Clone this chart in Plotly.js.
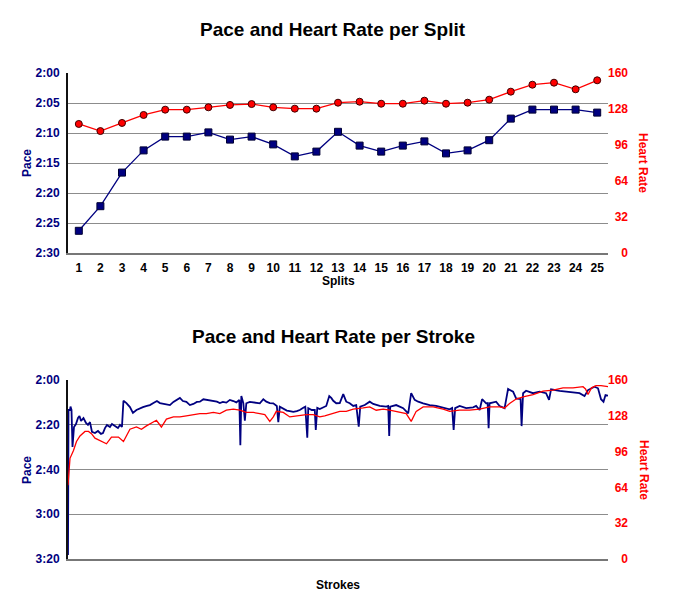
<!DOCTYPE html>
<html>
<head>
<meta charset="utf-8">
<script src="https://cdn.plot.ly/plotly-3.0.1.min.js"></script>
<style>html,body{margin:0;padding:0;background:#fff;}#chart{width:682px;height:603px;}</style>
</head>
<body>
<div id="chart"></div>
<script>
// ---------- Data: per split ----------
var splits = [1,2,3,4,5,6,7,8,9,10,11,12,13,14,15,16,17,18,19,20,21,22,23,24,25];
// pace in seconds per 500m (2:00 = 120 s)
var splitPace = [146.3,142.2,136.6,132.9,130.6,130.6,129.9,131.1,130.6,131.9,133.9,133.1,129.8,132.1,133.1,132.1,131.4,133.4,132.9,131.2,127.6,126.1,126.1,126.1,126.6];
var splitHR = [114.7,108.4,115.6,122.7,127.4,127.4,129.5,131.6,132.4,129.5,128.3,128.3,133.6,134.5,132.7,132.7,135.4,132.7,133.6,136.3,143.4,149.6,151.4,145.5,153.5];

// ---------- Data: per stroke ----------
var paceStrokes = [0,1,4,5,7,9,12,16,20,23,26,31,36,40,44,48,54,60,66,70,74,78,84,88,94,100,104,108,111,117,124,130,137,144,150,158,164,171,178,184,191,198,204,211,218,224,230,237,244,251,258,264,271,278,284,290,298,304,310,317,324,331,337,343,345,347,351,354,357,364,371,378,384,391,397,404,411,418,421,424,431,438,444,451,458,464,471,475,479,481,488,494,496,499,504,511,517,523,527,531,537,544,551,557,564,571,577,582,585,594,604,611,624,637,641,643,645,657,671,681,687,694,701,711,724,737,751,764,769,772,775,784,797,811,817,824,829,837,840,842,844,857,864,874,881,891,897,904,906,908,911,917,931,944,957,963,967,984,997,1011,1024,1034,1041,1054,1061,1067,1072,1076,1081];
var strokePace = [198.2,133.4,133.4,131.9,133.4,149.9,141.0,139.7,137.0,136.1,138.3,137.0,139.2,140.1,138.8,143.2,143.7,142.8,144.1,143.7,141.5,140.1,141.0,139.7,140.6,141.5,140.1,141.0,129.3,130.3,132.1,134.7,133.4,132.5,132.1,131.6,131.2,130.3,129.4,130.3,130.7,131.2,131.2,129.8,128.9,128.0,129.4,129.8,131.2,130.7,129.8,129.7,128.6,128.9,129.3,129.4,129.7,130.3,129.8,130.1,128.9,129.4,130.0,128.9,149.1,127.2,130.4,138.2,130.4,129.8,130.0,130.3,130.4,128.6,129.7,130.3,130.4,131.6,138.8,131.9,133.0,133.7,133.9,134.2,133.9,133.4,132.4,131.9,145.8,132.6,133.4,133.4,142.3,132.5,133.0,132.1,131.6,127.2,128.0,129.3,130.4,130.3,126.3,129.7,130.4,131.6,131.2,140.9,131.9,131.2,129.7,130.7,131.6,131.9,131.6,145.0,131.9,131.2,132.6,134.9,125.9,128.9,129.7,130.4,131.2,131.6,132.2,133.1,132.5,142.3,132.6,131.6,132.6,132.2,131.6,133.4,128.6,130.4,130.3,141.6,130.4,129.7,131.6,132.6,124.0,125.2,128.2,128.6,128.5,140.6,125.9,124.8,125.9,125.2,125.9,128.9,124.2,124.9,125.2,125.7,125.9,127.2,124.5,123.0,123.7,128.6,129.7,126.7,127.0];

var hrStrokes = [0,2,4,11,17,24,34,41,47,54,64,77,87,101,111,124,137,147,157,171,177,187,197,211,224,237,251,264,277,291,304,317,331,344,357,371,384,394,404,411,417,431,444,464,477,491,504,514,527,544,557,571,591,604,617,631,644,657,677,687,697,711,731,751,764,784,804,824,844,864,874,884,897,911,931,951,971,991,1011,1031,1036,1041,1048,1057,1067,1081];
var strokeHR = [66,84,90,97,105,110,114,114,112,108,106,103,109,109,105,116,118,116,119,123,124,118,125,127,127,128,129,130,130,131,130,133,134,133,131,131,130,129,123,127,132,131,127,128,129,129,127,128,130,132,132,134,135,136,133,134,133,132,130,123,132,136,136,134,132,133,133,134,136,136,135,139,143,145,147,150,151,153,153,154,152,147,153,155,155,154];

// ---------- Tick labels ----------
var splitPaceTicks = [120,125,130,135,140,145,150];
var splitPaceLabels = ['2:00','2:05','2:10','2:15','2:20','2:25','2:30'];
var strokePaceTicks = [120,140,160,180,200];
var strokePaceLabels = ['2:00','2:20','2:40','3:00','3:20'];
var hrTicks = [0,32,64,96,128,160];

var W = 682, H = 603;
var NAVY = '#000080', RED = '#ff0000';
var FONT = 'Liberation Sans, Arial, Helvetica, sans-serif';
var px = function(x){ return x / W; };
var py = function(y){ return 1 - y / H; };

var traces = [
  {x: splits, y: splitPace, xaxis: 'x', yaxis: 'y', mode: 'lines+markers', type: 'scatter',
   line: {color: NAVY, width: 1.3},
   marker: {symbol: 'square', size: 7, color: NAVY, line: {color: '#000033', width: 1}}},
  {x: splits, y: splitHR, xaxis: 'x', yaxis: 'y2', mode: 'lines+markers', type: 'scatter',
   line: {color: RED, width: 1.3},
   marker: {symbol: 'circle', size: 7, color: RED, line: {color: '#400000', width: 1}}},
  {x: paceStrokes, y: strokePace, xaxis: 'x2', yaxis: 'y3', mode: 'lines', type: 'scatter',
   line: {color: NAVY, width: 1.8}},
  {x: hrStrokes, y: strokeHR, xaxis: 'x2', yaxis: 'y4', mode: 'lines', type: 'scatter',
   line: {color: RED, width: 1.3}}
];

var tickFontL = {family: FONT, size: 12, color: NAVY, weight: 'bold'};
var tickFontR = {family: FONT, size: 12, color: RED, weight: 'bold'};
var gridC = '#8c8c8c';

var layout = {
  width: W, height: H,
  margin: {l: 0, r: 0, t: 0, b: 0},
  paper_bgcolor: '#fff', plot_bgcolor: '#fff',
  showlegend: false,
  font: {family: FONT},
  xaxis: {domain: [px(68), px(608)], anchor: 'y', range: [0.5, 25.5],
    tickvals: splits, ticks: '', ticklabelstandoff: 3,
    tickfont: {family: FONT, size: 12, color: '#000', weight: 'bold'},
    showgrid: false, zeroline: false, showline: true, linecolor: '#777', linewidth: 2},
  yaxis: {domain: [py(253), py(73)], anchor: 'x', range: [150, 120],
    tickvals: splitPaceTicks, ticktext: splitPaceLabels, ticks: '', ticklabelstandoff: 4,
    tickfont: tickFontL, showgrid: true, gridcolor: gridC, gridwidth: 1,
    zeroline: false, showline: true, linecolor: '#111', linewidth: 2},
  yaxis2: {overlaying: 'y', side: 'left', anchor: 'free', position: px(628), range: [0, 160],
    tickvals: hrTicks, ticks: '', tickfont: tickFontR, showgrid: false, zeroline: false, showline: false},
  xaxis2: {domain: [px(68), px(608)], anchor: 'y3', range: [0, 1081],
    showticklabels: false, ticks: '', showgrid: false, zeroline: false,
    showline: true, linecolor: '#777', linewidth: 2},
  yaxis3: {domain: [py(559), py(380)], anchor: 'x2', range: [200, 120],
    tickvals: strokePaceTicks, ticktext: strokePaceLabels, ticks: '', ticklabelstandoff: 4,
    tickfont: tickFontL, showgrid: true, gridcolor: gridC, gridwidth: 1,
    zeroline: false, showline: true, linecolor: '#111', linewidth: 2},
  yaxis4: {overlaying: 'y3', side: 'left', anchor: 'free', position: px(628), range: [0, 160],
    tickvals: hrTicks, ticks: '', tickfont: tickFontR, showgrid: false, zeroline: false, showline: false},
  annotations: [
    {text: 'Pace and Heart Rate per Split', xref: 'paper', yref: 'paper', x: px(333), y: py(29),
     showarrow: false, xanchor: 'center', yanchor: 'middle', font: {family: FONT, size: 19, color: '#000', weight: 'bold'}},
    {text: 'Pace and Heart Rate per Stroke', xref: 'paper', yref: 'paper', x: px(333), y: py(336),
     showarrow: false, xanchor: 'center', yanchor: 'middle', font: {family: FONT, size: 19, color: '#000', weight: 'bold'}},
    {text: 'Pace', xref: 'paper', yref: 'paper', x: px(27), y: py(163), textangle: -90,
     showarrow: false, xanchor: 'center', yanchor: 'middle', font: {family: FONT, size: 12, color: NAVY, weight: 'bold'}},
    {text: 'Heart Rate', xref: 'paper', yref: 'paper', x: px(643), y: py(163), textangle: 90,
     showarrow: false, xanchor: 'center', yanchor: 'middle', font: {family: FONT, size: 12, color: RED, weight: 'bold'}},
    {text: 'Splits', xref: 'paper', yref: 'paper', x: px(338), y: py(281),
     showarrow: false, xanchor: 'center', yanchor: 'middle', font: {family: FONT, size: 12, color: '#000', weight: 'bold'}},
    {text: 'Pace', xref: 'paper', yref: 'paper', x: px(27), y: py(470), textangle: -90,
     showarrow: false, xanchor: 'center', yanchor: 'middle', font: {family: FONT, size: 12, color: NAVY, weight: 'bold'}},
    {text: 'Heart Rate', xref: 'paper', yref: 'paper', x: px(644), y: py(470), textangle: 90,
     showarrow: false, xanchor: 'center', yanchor: 'middle', font: {family: FONT, size: 12, color: RED, weight: 'bold'}},
    {text: 'Strokes', xref: 'paper', yref: 'paper', x: px(338), y: py(585),
     showarrow: false, xanchor: 'center', yanchor: 'middle', font: {family: FONT, size: 12, color: '#000', weight: 'bold'}}
  ]
};

Plotly.newPlot('chart', traces, layout, {displayModeBar: false, staticPlot: true});
</script>
</body>
</html>
